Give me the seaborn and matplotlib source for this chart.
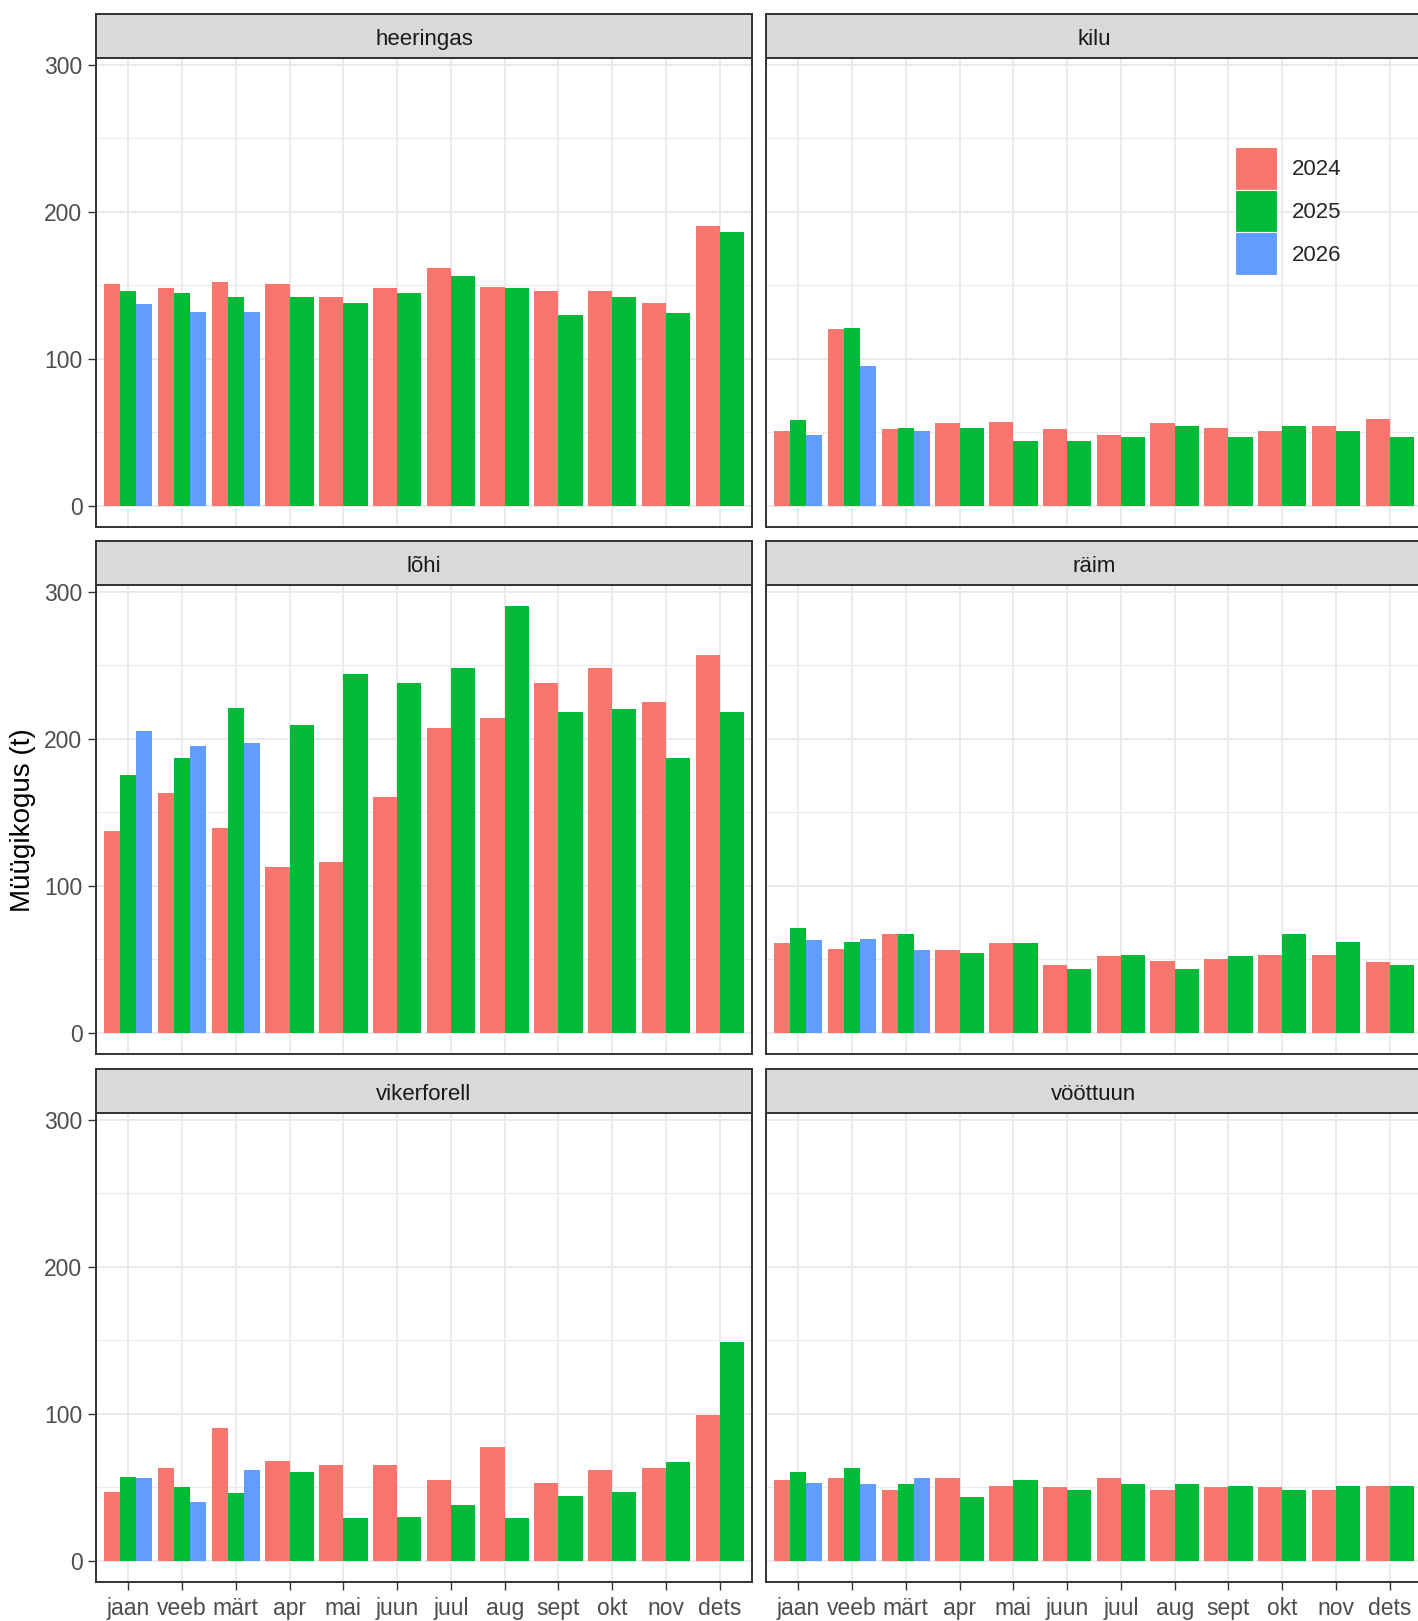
import matplotlib
matplotlib.use("Agg")
import matplotlib.pyplot as plt
from matplotlib.patches import Patch
import numpy as np
import pandas as pd
import seaborn as sns

months = ["jaan", "veeb", "märt", "apr", "mai", "juun", "juul", "aug", "sept", "okt", "nov", "dets"]
years = ["2024", "2025", "2026"]
species = ["heeringas", "kilu", "lõhi", "räim", "vikerforell", "vööttuun"]

heeringas_2024 = [151, 148, 152, 151, 142, 148, 162, 149, 146, 146, 138, 190]
heeringas_2025 = [146, 145, 142, 142, 138, 145, 156, 148, 130, 142, 131, 186]
heeringas_2026 = [137, 132, 132]

kilu_2024 = [51, 120, 52, 56, 57, 52, 48, 56, 53, 51, 54, 59]
kilu_2025 = [58, 121, 53, 53, 44, 44, 47, 54, 47, 54, 51, 47]
kilu_2026 = [48, 95, 51]

lohi_2024 = [137, 163, 139, 113, 116, 160, 207, 214, 238, 248, 225, 257]
lohi_2025 = [175, 187, 221, 209, 244, 238, 248, 290, 218, 220, 187, 218]
lohi_2026 = [205, 195, 197]

raim_2024 = [61, 57, 67, 56, 61, 46, 52, 49, 50, 53, 53, 48]
raim_2025 = [71, 62, 67, 54, 61, 43, 53, 43, 52, 67, 62, 46]
raim_2026 = [63, 64, 56]

vikerforell_2024 = [47, 63, 90, 68, 65, 65, 55, 77, 53, 62, 63, 99]
vikerforell_2025 = [57, 50, 46, 60, 29, 30, 38, 29, 44, 47, 67, 149]
vikerforell_2026 = [56, 40, 62]

voottuun_2024 = [55, 56, 48, 56, 51, 50, 56, 48, 50, 50, 48, 51]
voottuun_2025 = [60, 63, 52, 43, 55, 48, 52, 52, 51, 48, 51, 51]
voottuun_2026 = [53, 52, 56]

series = {
    "heeringas": (heeringas_2024, heeringas_2025, heeringas_2026),
    "kilu": (kilu_2024, kilu_2025, kilu_2026),
    "lõhi": (lohi_2024, lohi_2025, lohi_2026),
    "räim": (raim_2024, raim_2025, raim_2026),
    "vikerforell": (vikerforell_2024, vikerforell_2025, vikerforell_2026),
    "vööttuun": (voottuun_2024, voottuun_2025, voottuun_2026),
}

rows = []
for sp in species:
    for yr, vals in zip(years, series[sp]):
        for m, v in zip(months, vals):
            rows.append((sp, yr, m, v))
df = pd.DataFrame(rows, columns=["liik", "aasta", "kuu", "kogus"])

palette = {"2024": "#F8766D", "2025": "#00BA38", "2026": "#619CFF"}

sns.set_style("white")
plt.rcParams["font.family"] = ["Liberation Sans", "DejaVu Sans"]

W, H = 1418, 1621
fig = plt.figure(figsize=(W / 100, H / 100), dpi=100)

col_x = [96, 766]
panel_w = 656
row_top = [58, 585, 1113]
panel_h = 469
strip_h = 44.5

ymax = df["kogus"].max()
ylim = (-0.05 * ymax, 1.05 * ymax)
three_months = months[:3]

for i, sp in enumerate(species):
    r, c = divmod(i, 2)
    x0 = col_x[c]
    y0 = row_top[r]
    ax = fig.add_axes([x0 / W, 1 - (y0 + panel_h) / H, panel_w / W, panel_h / H])
    sub = df[df["liik"] == sp]
    # first three months have 3 years, the rest only 2 (ggplot-style dodge per group)
    part1 = sub[sub["kuu"].isin(three_months)]
    part2 = sub[~sub["kuu"].isin(three_months) & (sub["aasta"] != "2026")]
    sns.barplot(data=part1, x="kuu", y="kogus", hue="aasta", order=months,
                hue_order=years, palette=palette, width=0.9, dodge=True,
                errorbar=None, saturation=1, linewidth=0, legend=False, ax=ax)
    sns.barplot(data=part2, x="kuu", y="kogus", hue="aasta", order=months,
                hue_order=years[:2], palette=palette, width=0.9, dodge=True,
                errorbar=None, saturation=1, linewidth=0, legend=False, ax=ax)
    ax.set_xlim(-0.6, 11.6)
    ax.set_ylim(*ylim)
    ax.set_xticks(range(12))
    ax.set_yticks([0, 100, 200, 300])
    ax.set_yticks([50, 150, 250], minor=True)
    ax.set_axisbelow(True)
    ax.grid(True, which="major", color="#EBEBEB", linewidth=1.4)
    ax.grid(True, which="minor", axis="y", color="#EBEBEB", linewidth=0.8)
    for s in ax.spines.values():
        s.set_visible(True)
        s.set_color("#333333")
        s.set_linewidth(1.4)
    ax.set_xlabel("")
    ax.set_ylabel("")
    ax.tick_params(axis="both", which="major", length=5.8, width=1.0, color="#333333",
                   labelsize=16.5, labelcolor="#4D4D4D", pad=4)
    ax.tick_params(axis="x", pad=5)
    ax.tick_params(axis="y", which="minor", length=0)
    if r == 2:
        ax.set_xticklabels(months)
        ax.tick_params(axis="x", bottom=True, labelbottom=True)
    else:
        ax.tick_params(axis="x", bottom=False, labelbottom=False)
    if c == 0:
        ax.tick_params(axis="y", left=True, labelleft=True)
    else:
        ax.tick_params(axis="y", left=False, labelleft=False)

    sax = fig.add_axes([x0 / W, 1 - y0 / H, panel_w / W, strip_h / H])
    sax.set_facecolor("#D9D9D9")
    sax.set_xticks([])
    sax.set_yticks([])
    for s in sax.spines.values():
        s.set_visible(True)
        s.set_color("#333333")
        s.set_linewidth(1.4)
    sax.text(0.5, 0.42, sp, ha="center", va="center", fontsize=16, color="#1A1A1A",
             transform=sax.transAxes)

fig.text(23 / W, 1 - 820 / H, "Müügikogus (t)", rotation=90, ha="center", va="center",
         fontsize=20, color="black")

handles = [Patch(facecolor=palette[y], edgecolor="white", linewidth=0.8, label=y) for y in years]
fig.legend(handles=handles, loc="upper left", bbox_to_anchor=(1235 / W, 1 - 146.7 / H),
           frameon=False, fontsize=16, handlelength=1.9, handleheight=2.59,
           labelspacing=0.0, handletextpad=0.68, borderpad=0, borderaxespad=0)

fig.savefig("out.png", dpi=100, facecolor="white")
